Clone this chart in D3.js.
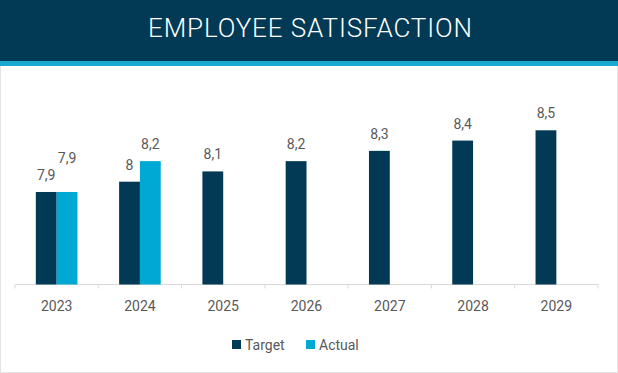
<!DOCTYPE html>
<html>
<head>
<meta charset="utf-8">
<script src="https://cdn.jsdelivr.net/npm/d3@7"></script>
<style>
  body { margin: 0; background: #fff; }
  text { font-family: Roboto, "Liberation Sans", sans-serif; }
</style>
</head>
<body>
<svg id="chart" width="618" height="373"></svg>
<script>
var years = ["2023", "2024", "2025", "2026", "2027", "2028", "2029"];
var target = [7.9, 8.0, 8.1, 8.2, 8.3, 8.4, 8.5];
var actual = [7.9, 8.2, null, null, null, null, null];
var seriesNames = ["Target", "Actual"];
var colors = ["#023a55", "#00a9d4"];

var svg = d3.select("#chart"),
    width = +svg.attr("width"),
    height = +svg.attr("height");

var fmt = function(v) { return String(v).replace(".", ","); };

// frame + header
svg.append("rect").attr("x", 0.5).attr("y", 0.5).attr("width", width - 1).attr("height", height - 1)
    .attr("fill", "#fff").attr("stroke", "#e4e4e4");
svg.append("rect").attr("x", 0).attr("y", 0).attr("width", width).attr("height", 62).attr("fill", "#023a55");
svg.append("rect").attr("x", 0).attr("y", 61).attr("width", width).attr("height", 5).attr("fill", "#1aa8cf");
svg.append("text").attr("x", 310).attr("y", 37)
    .attr("text-anchor", "middle")
    .attr("font-size", 26).attr("font-weight", 300)
    .attr("fill", "#fff")
    .attr("textLength", 324).attr("lengthAdjust", "spacing")
    .text("EMPLOYEE SATISFACTION");

var x = d3.scaleBand().domain(years).range([15, 598]).padding(0);
var inner = d3.scaleBand().domain(seriesNames).range([0, x.bandwidth()]).paddingInner(0).paddingOuter(1);
var y = d3.scaleLinear().domain([7, 9]).range([284.5, 78.9]);

// axis
var axis = svg.append("g").attr("transform", "translate(0,284.5)");
axis.append("line").attr("x1", 15).attr("x2", 598).attr("stroke", "#d9d9d9");
axis.selectAll("line.tick").data(d3.range(years.length + 1)).enter().append("line")
    .attr("class", "tick")
    .attr("x1", function(i) { return 15 + i * x.step(); })
    .attr("x2", function(i) { return 15 + i * x.step(); })
    .attr("y1", 0).attr("y2", 4).attr("stroke", "#d9d9d9");
axis.selectAll("text").data(years).enter().append("text")
    .attr("x", function(d) { return x(d) + x.bandwidth() / 2; })
    .attr("y", 26)
    .attr("text-anchor", "middle").attr("font-size", 14).attr("fill", "#595959")
    .text(function(d) { return d; });

// bars
var data = [];
years.forEach(function(yr, i) {
  [target[i], actual[i]].forEach(function(v, s) {
    if (v != null) data.push({ year: yr, s: s, v: v, i: i });
  });
});

svg.append("g").selectAll("rect").data(data).enter().append("rect")
    .attr("x", function(d) { return x(d.year) + inner(seriesNames[d.s]); })
    .attr("y", function(d) { return y(d.v); })
    .attr("width", inner.bandwidth())
    .attr("height", function(d) { return y(7) - y(d.v); })
    .attr("fill", function(d) { return colors[d.s]; });

// value labels; actual label pushed up when it would collide with target label
function labelY(d) {
  var base = y(d.v) - 12;
  if (d.s === 1 && Math.abs(y(d.v) - y(target[d.i])) < 16) base -= 17;
  return base;
}
svg.append("g").selectAll("text").data(data).enter().append("text")
    .attr("x", function(d) { return x(d.year) + inner(seriesNames[d.s]) + inner.bandwidth() / 2; })
    .attr("y", labelY)
    .attr("text-anchor", "middle").attr("font-size", 14).attr("fill", "#595959")
    .text(function(d) { return fmt(d.v); });

// legend
var legend = svg.append("g").attr("transform", "translate(232,340)");
var lx = [0, 74];
seriesNames.forEach(function(n, s) {
  var g = legend.append("g").attr("transform", "translate(" + lx[s] + ",0)");
  g.append("rect").attr("width", 9).attr("height", 9).attr("fill", colors[s]);
  g.append("text").attr("x", 13).attr("y", 9.5).attr("font-size", 14).attr("fill", "#595959").text(n);
});
</script>
</body>
</html>
